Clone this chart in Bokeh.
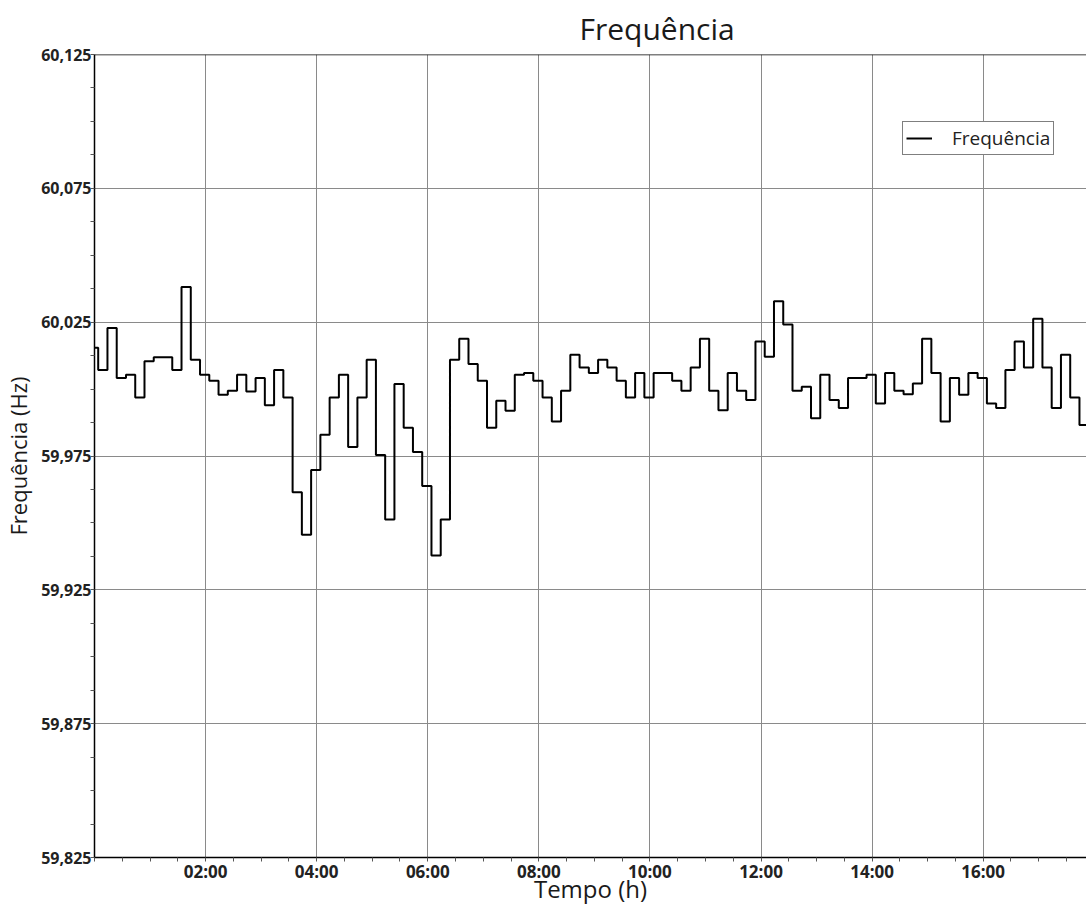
from bokeh.plotting import figure
from bokeh.models import Range1d, FixedTicker, CustomJSTickFormatter, Span, ColumnDataSource
from bokeh.embed import file_html
from bokeh.resources import INLINE

# 10-minute samples; first sample starts 6 min before 00:00 (clipped by the axis)
first_sample_min = -6
sample_step_min = 10
freq_hz = [
    60.0154, 60.0071, 60.0228, 60.0041, 60.0054, 59.9969, 60.0104, 60.0119, 60.0119, 60.0071,
    60.0381, 60.0110, 60.0054, 60.0031, 59.9979, 59.9994, 60.0054, 59.9991, 60.0041, 59.9940,
    60.0071, 59.9969, 59.9615, 59.9456, 59.9698, 59.9829, 59.9969, 60.0054, 59.9784, 59.9969,
    60.0110, 59.9754, 59.9513, 60.0019, 59.9856, 59.9765, 59.9638, 59.9378, 59.9513, 60.0110,
    60.0188, 60.0094, 60.0031, 59.9856, 59.9956, 59.9919, 60.0054, 60.0060, 60.0031, 59.9969,
    59.9879, 59.9994, 60.0128, 60.0081, 60.0060, 60.0110, 60.0081, 60.0031, 59.9969, 60.0060,
    59.9969, 60.0060, 60.0060, 60.0031, 59.9994, 60.0081, 60.0188, 59.9994, 59.9921, 60.0060,
    59.9994, 59.9959, 60.0178, 60.0121, 60.0328, 60.0241, 59.9994, 60.0009, 59.9891, 60.0054,
    59.9959, 59.9929, 60.0041, 60.0041, 60.0054, 59.9946, 60.0060, 59.9994, 59.9981, 60.0021,
    60.0188, 60.0060, 59.9879, 60.0041, 59.9979, 60.0060, 60.0041, 59.9946, 59.9929, 60.0071,
    60.0178, 60.0081, 60.0263, 60.0081, 59.9929, 60.0128, 59.9969, 59.9866,
]
x_tick_hours = [2, 4, 6, 8, 10, 12, 14, 16]
x_tick_labels = ["02:00", "04:00", "06:00", "08:00", "10:00", "12:00", "14:00", "16:00"]
y_ticks = [59.825, 59.875, 59.925, 59.975, 60.025, 60.075, 60.125]

t_hours = [(first_sample_min + i * sample_step_min) / 60.0 for i in range(len(freq_hz))]
# closing point so the last 10-min sample is drawn with its full width
x_draw = t_hours + [t_hours[-1] + sample_step_min / 60.0]
y_draw = freq_hz + [freq_hz[-1]]
src = ColumnDataSource(dict(x=x_draw, y=y_draw))

FONT = "Open Sans"
p = figure(width=1086, height=909, output_backend="svg", toolbar_location=None,
           x_range=Range1d(0, 17.86), y_range=Range1d(59.825, 60.125),
           min_border_left=93, min_border_right=0, min_border_top=52, min_border_bottom=52,
           title="Frequência")
p.outline_line_color = None
p.background_fill_color = "white"

p.title.text_font = FONT
p.title.text_font_size = "30px"
p.title.text_font_style = "normal"
p.title.text_color = "#1a1a1a"
p.title.align = "left"
p.title.offset = 485
p.title.standoff = 11

p.step("x", "y", source=src, mode="after", line_color="black", line_width=2,
       legend_label="Frequência")

# x axis
xa = p.xaxis[0]
xa.ticker = FixedTicker(ticks=x_tick_hours,
                        minor_ticks=[h * 0.5 for h in range(0, 37)])
xa.major_label_overrides = {h: l for h, l in zip(x_tick_hours, x_tick_labels)}
xa.major_tick_out = 0
xa.major_tick_in = 0
xa.minor_tick_out = 4
xa.minor_tick_in = 0
xa.minor_tick_line_color = "#555555"
xa.axis_line_color = "black"
xa.axis_line_width = 1.5
xa.major_label_text_font = FONT
xa.major_label_text_font_size = "17px"
xa.major_label_text_font_style = "bold"
xa.major_label_text_color = "#222222"
xa.major_label_standoff = -2
xa.axis_label = "Tempo (h)"
xa.axis_label_text_font = FONT
xa.axis_label_text_font_size = "24px"
xa.axis_label_text_font_style = "normal"
xa.axis_label_text_color = "#1a1a1a"
xa.axis_label_standoff = -14

# y axis
ya = p.yaxis[0]
ya.ticker = FixedTicker(ticks=y_ticks,
                        minor_ticks=[59.825 + k * 0.0125 for k in range(0, 25)])
ya.formatter = CustomJSTickFormatter(code="return tick.toFixed(3).replace('.', ',');")
ya.major_tick_out = 0
ya.major_tick_in = 0
ya.minor_tick_out = 4
ya.minor_tick_in = 0
ya.minor_tick_line_color = "#555555"
ya.axis_line_color = "black"
ya.axis_line_width = 1.5
ya.major_label_text_font = FONT
ya.major_label_text_font_size = "16px"
ya.major_label_text_font_style = "bold"
ya.major_label_text_color = "#222222"
ya.major_label_standoff = -1
ya.axis_label = "Frequência (Hz)"
ya.axis_label_text_font = FONT
ya.axis_label_text_font_size = "22px"
ya.axis_label_text_font_style = "normal"
ya.axis_label_text_color = "#1a1a1a"
ya.axis_label_standoff = 5

p.xgrid.ticker = FixedTicker(ticks=x_tick_hours)
p.ygrid.ticker = FixedTicker(ticks=y_ticks)
for g in (p.xgrid[0], p.ygrid[0]):
    g.grid_line_color = "#8a8a8a"
    g.grid_line_width = 1

p.add_layout(Span(location=60.125, dimension="width", line_color="black", line_width=1.5))

lg = p.legend[0]
lg.location = (808, 702)
lg.border_line_color = "black"
lg.border_line_width = 1
lg.background_fill_color = "white"
lg.background_fill_alpha = 1
lg.padding = 3
lg.margin = 0
lg.glyph_width = 26
lg.label_standoff = 20
lg.label_text_font = FONT
lg.label_text_font_size = "19px"
lg.label_text_color = "#222222"

open("out.html", "w").write(file_html(p, INLINE))
